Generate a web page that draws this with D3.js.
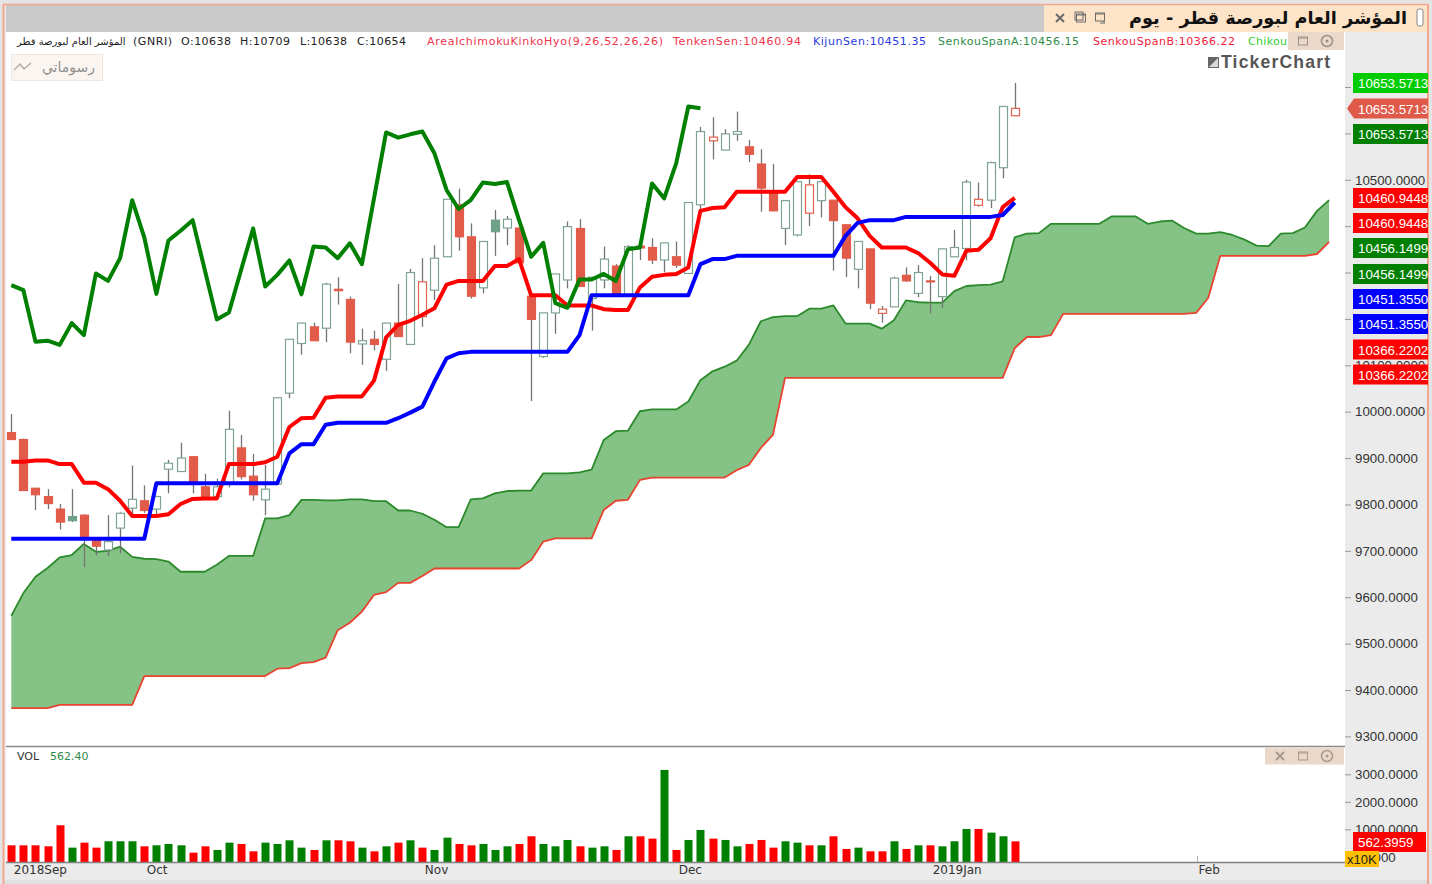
<!DOCTYPE html>
<html>
<head>
<meta charset="utf-8">
<script src="https://cdn.jsdelivr.net/npm/d3@7"></script>
<style>
body { margin: 0; background: #e4e4e4; overflow: hidden; }
text { font-family: "DejaVu Sans", sans-serif; }
</style>
</head>
<body>
<script>
// daily candles, index 0 = first session of 2018Sep
var candleOpen = [9955,9940,9835,9817,9790,9774,9777,9723,9702,9749,9792,9808,9790,9876,9871,9903,9838,9817,9846,9922,9861,9810,9844,10040,10147,10183,10180,10264,10242,10146,10156,10113,10191,10145,10205,10262,10334,10446,10377,10267,10413,10396,10396,10249,10119,10213,10284,10395,10244,10284,10314,10252,10357,10354,10327,10334,10298,10446,10584,10564,10598,10571,10534,10472,10395,10381,10428,10455,10456,10403,10307,10351,10212,10226,10294,10255,10282,10248,10334,10352,10445,10456,10526,10638];
var candleHigh = [9995,9942,9835,9833,9801,9833,9779,9730,9777,9783,9884,9841,9819,9896,9933,9903,9866,9856,10002,9950,9909,9885,10030,10156,10191,10192,10278,10290,10248,10179,10175,10191,10275,10308,10331,10359,10458,10481,10406,10367,10435,10422,10396,10249,10213,10297,10410,10415,10290,10356,10318,10359,10357,10374,10364,10367,10451,10614,10635,10609,10647,10586,10566,10534,10455,10496,10512,10496,10456,10403,10367,10351,10228,10291,10311,10316,10293,10351,10392,10500,10494,10539,10658,10709];
var candleLow = [9940,9830,9788,9790,9746,9762,9665,9690,9689,9695,9775,9782,9777,9824,9871,9824,9813,9817,9837,9854,9808,9777,9844,10029,10123,10153,10150,10231,10126,10101,10132,10088,10162,10145,10183,10241,10334,10347,10244,10255,10336,10359,10321,10023,10116,10168,10266,10270,10175,10266,10255,10252,10327,10318,10301,10310,10298,10428,10544,10564,10584,10538,10431,10433,10359,10378,10400,10419,10304,10290,10266,10221,10192,10226,10280,10247,10212,10224,10334,10326,10442,10439,10503,10638];
var candleClose = [9940,9830,9821,9802,9762,9765,9726,9710,9720,9781,9811,9787,9817,9889,9900,9849,9813,9838,9962,9860,9821,9833,10030,10156,10191,10153,10275,10261,10150,10153,10145,10191,10162,10300,10280,10331,10458,10377,10249,10367,10388,10415,10321,10199,10213,10297,10399,10270,10290,10329,10255,10356,10353,10327,10364,10316,10451,10604,10592,10599,10604,10555,10482,10433,10455,10496,10489,10496,10412,10331,10367,10234,10221,10288,10282,10300,10280,10351,10354,10495,10458,10537,10658,10654];
// 1 = green session, 0 = red session (same colour on candle and volume bar)
var dayUp = [0,0,0,0,0,1,0,0,1,1,1,0,1,1,1,0,0,1,1,0,0,1,1,1,1,0,1,0,0,1,0,1,0,1,0,1,1,0,0,1,1,1,0,0,1,1,1,0,1,1,0,1,0,0,1,0,1,1,0,1,1,0,0,0,1,1,0,1,0,0,1,0,0,1,0,1,0,1,1,1,0,1,1,0];
var volume = [418,418,418,382,1146,333,515,333,564,564,564,382,418,467,418,151,382,248,515,467,200,515,467,600,333,248,600,600,564,333,200,382,515,600,333,248,697,467,418,467,248,382,467,746,467,382,612,382,333,382,248,746,746,661,3159,248,612,976,661,612,382,467,612,333,564,515,418,418,746,285,333,200,200,564,285,418,418,382,564,1012,1012,879,746,562.4];

var tenkan = [9892,9892,9895,9895,9887,9887,9847,9847,9833,9808,9775,9775,9775,9779,9801,9812,9813,9813,9887,9887,9887,9891,9903,9967,9986,9987,10030,10033,10033,10033,10067,10160,10187,10196,10209,10223,10274,10282,10282,10282,10314,10314,10329,10251,10251,10251,10229,10229,10229,10221,10219,10219,10268,10291,10295,10297,10311,10433,10439,10441,10474,10474,10474,10474,10474,10506,10506,10506,10474,10441,10417,10379,10354,10354,10354,10342,10321,10296,10293,10347,10349,10374,10441,10461];
var kijun = [9726,9726,9726,9726,9726,9726,9726,9726,9726,9726,9726,9726,9846,9846,9846,9846,9846,9846,9846,9846,9846,9846,9846,9910,9930,9930,9972,9976,9976,9976,9976,9976,9986,9998,10011,10065,10115,10126,10129,10129,10129,10129,10129,10129,10129,10129,10129,10165,10251,10251,10251,10251,10251,10251,10251,10251,10251,10318,10329,10329,10336,10336,10336,10336,10336,10336,10336,10336,10336,10379,10407,10413,10413,10413,10420,10420,10420,10420,10420,10420,10420,10420,10424,10451];
var chikou = [10273,10262,10151,10153,10144,10191,10165,10298,10282,10331,10456,10376,10254,10369,10390,10413,10306,10199,10214,10305,10395,10270,10295,10326,10253,10356,10354,10331,10363,10318,10460,10602,10591,10598,10604,10557,10478,10437,10456,10494,10491,10495,10413,10334,10364,10234,10224,10285,10285,10297,10282,10350,10354,10492,10460,10536,10658,10654];
var spanA = [9560,9609,9644,9663,9686,9691,9715,9698,9700,9709,9687,9683,9682,9677,9655,9655,9655,9670,9689,9689,9689,9770,9770,9777,9810,9810,9809,9809,9811,9811,9807,9807,9787,9787,9780,9767,9751,9751,9811,9813,9824,9829,9830,9830,9867,9867,9867,9869,9875,9939,9958,9959,10001,10005,10005,10005,10022,10068,10087,10097,10110,10144,10195,10204,10206,10206,10222,10222,10229,10190,10190,10190,10179,10197,10240,10236,10235,10235,10260,10271,10273,10274,10281,10376,10384,10385,10405,10405,10405,10405,10405,10421,10421,10421,10405,10410,10412,10396,10384,10384,10387,10381,10371,10358,10357,10384,10385,10397,10433,10456];
var spanB = [9361,9361,9361,9361,9368,9368,9368,9368,9368,9368,9368,9430,9430,9430,9430,9430,9430,9430,9430,9430,9430,9430,9446,9447,9458,9460,9470,9529,9545,9569,9605,9611,9631,9631,9646,9662,9662,9662,9662,9662,9662,9662,9662,9680,9720,9727,9727,9727,9727,9788,9808,9810,9853,9858,9858,9858,9858,9858,9858,9858,9874,9885,9922,9950,10073,10073,10073,10073,10073,10073,10073,10073,10073,10073,10073,10073,10073,10073,10073,10073,10073,10073,10073,10137,10161,10161,10165,10211,10211,10211,10211,10211,10211,10211,10211,10211,10211,10211,10213,10245,10336,10336,10336,10336,10336,10336,10336,10336,10340,10366];

var priceTicks = [9300,9400,9500,9600,9700,9800,9900,10000,10100,10200,10300,10400,10500,10600,10700];
// these labels sit fully behind the value flags in the reference
var coveredPriceLabels = [10200,10300,10400,10600,10700];
var volumeTicks = [0,1000,2000,3000];
var monthIndex = [0,11,34,55,76,98];
var monthLabels = ["2018Sep","Oct","Nov","Dec","2019Jan","Feb"];

var flagLabels = ["10653.5713","10653.5713","10653.5713","10460.9448","10460.9448","10456.1499","10456.1499","10451.3550","10451.3550","10366.2202","10366.2202"];
var flagColors = ["#00cc00","#e05a4a","#007f00","#ff0000","#ff0000","#007f00","#007f00","#0000ff","#0000ff","#ff0000","#ff0000"];

var w = 1432;
var h = 884;
var plotLeft = 6;
var plotRight = 1345;
var plotTop = 32;
var plotBottom = 746;
var volBottom = 862;
var frameRight = 1428;
var numberFont = '"Liberation Sans"';

var svg = d3.select("body")
			.append("svg")
			.attr("width",w)
			.attr("height",h)
			.style("display","block");

var xScale = d3.scaleLinear().domain([0,109]).range([11.3,1329.1]);
var yScale = d3.scaleLinear().domain([9300,10700]).range([736.4,87]);
var volScale = d3.scaleLinear().domain([0,3000]).range([856.8,774.3]);

// window chrome and panel backgrounds
svg.append("rect").attr("x",3).attr("y",4).attr("width",frameRight-3).attr("height",h-4).attr("fill","#ebebeb");
svg.append("rect").attr("x",plotLeft).attr("y",5).attr("width",1038).attr("height",27).attr("fill","#c9c9c9");
svg.append("rect").attr("x",1044).attr("y",5).attr("width",frameRight-1044).attr("height",27).attr("fill","#fde4c8");
svg.append("rect").attr("x",plotLeft).attr("y",plotTop).attr("width",plotRight-plotLeft).attr("height",volBottom-plotTop).attr("fill","white");
svg.append("line").attr("x1",3).attr("x2",frameRight).attr("y1",4.5).attr("y2",4.5).attr("stroke","#f3a78e").attr("stroke-width",1.5);
svg.append("line").attr("x1",3.5).attr("x2",3.5).attr("y1",4).attr("y2",h).attr("stroke","#f3a78e").attr("stroke-width",2);
svg.append("line").attr("x1",frameRight).attr("x2",frameRight).attr("y1",4).attr("y2",h).attr("stroke","#f3a78e").attr("stroke-width",2);
svg.append("rect").attr("x",5).attr("y",880).attr("width",frameRight-6).attr("height",4).attr("fill","#e0e0e0");

svg.append("defs").append("clipPath").attr("id","price-clip")
	.append("rect").attr("x",plotLeft).attr("y",plotTop).attr("width",plotRight-plotLeft).attr("height",plotBottom-plotTop);

var pricePanel = svg.append("g").attr("clip-path","url(#price-clip)");

// cloud first, candles sit on it
var cloudIndex = d3.range(spanA.length);
var cloud = d3.area()
				.x(function(i){return xScale(i);})
				.y0(function(i){return yScale(spanB[i]);})
				.y1(function(i){return yScale(spanA[i]);});

pricePanel.append("path").datum(cloudIndex).attr("d",cloud).attr("fill","#85c285");

function drawLine(series, color, width){
	var line = d3.line()
				.x(function(d,i){return xScale(i);})
				.y(function(d){return yScale(d);});
	pricePanel.append("path")
		.datum(series)
		.attr("d",line)
		.attr("fill","none")
		.attr("stroke",color)
		.attr("stroke-width",width)
		.attr("stroke-linejoin","round");
}

drawLine(spanB,"#e8432f",1.8);
drawLine(spanA,"#2b8a2b",1.8);

// candles
var candles = pricePanel.selectAll(".candle")
				.data(candleOpen)
				.enter()
				.append("g")
				.attr("class","candle");

candles.append("line")
	.attr("x1",function(d,i){return Math.round(xScale(i))+0.5;})
	.attr("x2",function(d,i){return Math.round(xScale(i))+0.5;})
	.attr("y1",function(d,i){return yScale(candleHigh[i]);})
	.attr("y2",function(d,i){return yScale(candleLow[i]);})
	.attr("stroke","#747474")
	.attr("stroke-width",1.3);

candles.append("rect")
	.attr("x",function(d,i){return Math.round(xScale(i))-3.5;})
	.attr("width",8)
	.attr("y",function(d,i){return yScale(Math.max(candleOpen[i],candleClose[i]));})
	.attr("height",function(d,i){return Math.max(1,Math.abs(yScale(candleOpen[i])-yScale(candleClose[i])));})
	.attr("fill",function(d,i){
		if(candleClose[i]>=candleOpen[i]) return "white";
		return dayUp[i] ? "#6fa088" : "#e25b4a";
	})
	.attr("stroke",function(d,i){
		if(candleClose[i]>=candleOpen[i]) return dayUp[i] ? "#7fa392" : "#e4604f";
		return dayUp[i] ? "#6fa088" : "#e25b4a";
	})
	.attr("stroke-width",1.2);

drawLine(tenkan,"#ff0000",4);
drawLine(kijun,"#0000ff",4);
drawLine(chikou,"#008000",4);

// panel divider and price axis
svg.append("line").attr("x1",plotLeft).attr("x2",plotRight).attr("y1",746.5).attr("y2",746.5).attr("stroke","#8a8a8a").attr("stroke-width",1.5);

var yAxis = d3.axisRight(yScale)
				.tickValues(priceTicks)
				.tickFormat(function(d){return coveredPriceLabels.indexOf(d)>=0 ? "" : d3.format(".4f")(d);})
				.tickSize(6)
				.tickPadding(4);

var yAxisG = svg.append("g").attr("class","yaxis").attr("transform","translate("+plotRight+",0)").call(yAxis);
yAxisG.select(".domain").remove();

// volume panel
svg.selectAll(".vol")
	.data(volume)
	.enter()
	.append("rect")
	.attr("class","vol")
	.attr("x",function(d,i){return Math.round(xScale(i))-3.5;})
	.attr("width",8)
	.attr("y",function(d){return volScale(d);})
	.attr("height",function(d){return volBottom-volScale(d);})
	.attr("fill",function(d,i){return dayUp[i] ? "#008000" : "#ff0000";});

var volAxis = d3.axisRight(volScale)
				.tickValues(volumeTicks)
				.tickFormat(d3.format(".4f"))
				.tickSize(6)
				.tickPadding(4);

var volAxisG = svg.append("g").attr("class","volaxis").attr("transform","translate("+plotRight+",0)").call(volAxis);
volAxisG.select(".domain").remove();

// time axis
var xAxis = d3.axisBottom(xScale)
				.tickValues(monthIndex)
				.tickFormat(function(d,i){return monthLabels[i];})
				.tickSize(0)
				.tickPadding(3);

var xAxisG = svg.append("g").attr("class","xaxis").attr("transform","translate(0,"+volBottom+")").call(xAxis);
xAxisG.select(".domain").attr("stroke","#808080").attr("stroke-width",1.5).attr("d","M"+plotLeft+",0.5H"+plotRight);
xAxisG.selectAll("text").attr("text-anchor","start").attr("dx",2).attr("font-size",12).attr("fill","#333");
svg.append("line").attr("x1",1197.5).attr("x2",1197.5).attr("y1",856).attr("y2",862).attr("stroke","#b0b0b0");

svg.selectAll(".yaxis text, .volaxis text").attr("font-size",13.3).attr("fill","#333").style("font-family",numberFont);
svg.selectAll(".yaxis line, .volaxis line").attr("stroke","#9a9a9a");

// value flags on the price scale
var flagTops = [73,98.5,124,188,213,238,264,289,314,339.5,364.5];
var flags = svg.selectAll(".flag").data(flagLabels).enter().append("g").attr("class","flag");
flags.append("path")
	.attr("d",function(d,i){
		var t = flagTops[i];
		if(i==1) return "M1347,"+(t+10)+"L1354,"+t+"H"+frameRight+"V"+(t+20)+"H1354Z";
		return "M1353,"+t+"H"+frameRight+"V"+(t+20)+"H1353Z";
	})
	.attr("fill",function(d,i){return flagColors[i];});
flags.append("text")
	.attr("x",1358)
	.attr("y",function(d,i){return flagTops[i]+15;})
	.attr("font-size",13.3)
	.attr("fill","white")
	.style("font-family",numberFont)
	.text(function(d){return d;});

svg.append("rect").attr("x",1353).attr("y",832).attr("width",73).attr("height",20).attr("fill","#ff0000");
svg.append("text").attr("x",1358).attr("y",847).attr("font-size",13.3).attr("fill","white").style("font-family",numberFont).text("562.3959");
svg.append("rect").attr("x",1345).attr("y",851).attr("width",34).attr("height",16).attr("fill","#ffc000");
svg.append("text").attr("x",1347).attr("y",863.5).attr("font-size",13).attr("fill","#222").style("font-family",numberFont).text("x10K");

// title bar
svg.append("text")
	.attr("x",1268)
	.attr("y",24)
	.attr("text-anchor","middle")
	.attr("direction","rtl")
	.attr("font-size",17.7)
	.attr("font-weight","bold")
	.attr("fill","#111")
	.text("المؤشر العام لبورصة قطر - يوم");
svg.append("rect").attr("x",1417).attr("y",9).attr("width",6).attr("height",17).attr("rx",2).attr("fill","white").attr("stroke","#888");

function closeIcon(cx,cy,color){
	svg.append("path").attr("d","M"+(cx-4)+","+(cy-4)+"L"+(cx+4)+","+(cy+4)+"M"+(cx+4)+","+(cy-4)+"L"+(cx-4)+","+(cy+4))
		.attr("stroke",color).attr("stroke-width",2).attr("fill","none");
}
function boxIcon(cx,cy,color){
	svg.append("rect").attr("x",cx-4.5).attr("y",cy-4).attr("width",9).attr("height",8)
		.attr("fill","none").attr("stroke",color);
	svg.append("line").attr("x1",cx-4.5).attr("x2",cx+4.5).attr("y1",cy-3).attr("y2",cy-3).attr("stroke",color);
}
function gearIcon(cx,cy,color){
	svg.append("circle").attr("cx",cx).attr("cy",cy).attr("r",5.5).attr("fill","none").attr("stroke",color).attr("stroke-width",1.5);
	svg.append("circle").attr("cx",cx).attr("cy",cy).attr("r",1.5).attr("fill",color);
}
closeIcon(1060,18,"#6b6b6b");
boxIcon(1081,18,"#6b6b6b");
svg.append("rect").attr("x",1075).attr("y",12).attr("width",8).attr("height",8).attr("fill","none").attr("stroke","#6b6b6b");
boxIcon(1100,17,"#6b6b6b");
svg.append("path").attr("d","M1100,23h5l-2,-2").attr("fill","none").attr("stroke","#6b6b6b");

// legend row
var legendNames = ["المؤشر العام لبورصة قطر","(GNRI)","O:10638","H:10709","L:10638","C:10654","AreaIchimokuKinkoHyo(9,26,52,26,26)","TenkenSen:10460.94","KijunSen:10451.35","SenkouSpanA:10456.15","SenkouSpanB:10366.22","Chikou"];
var legendLeft = [17,133,181,240,300,357,427,673,813,938,1093,1248];
var legendWidth = [null,39,50,50,47,49,236,128,113,141,142,39];
var legendColor = ["#222","#222","#222","#222","#222","#222","#f0334a","#f0334a","#2a3ae0","#2e8b4a","#f01a3a","#33cc33"];
svg.selectAll(".legend")
	.data(legendNames)
	.enter()
	.append("text")
	.attr("class","legend")
	.attr("x",function(d,i){return legendLeft[i];})
	.attr("y",44.5)
	.attr("font-size",function(d,i){return i==0 ? 10 : 11;})
	.attr("fill",function(d,i){return legendColor[i];})
	.each(function(d,i){
		if(legendWidth[i]) d3.select(this).attr("textLength",legendWidth[i]);
	})
	.text(function(d){return d;});

// panel controls
svg.append("rect").attr("x",1288).attr("y",32).attr("width",56).attr("height",18).attr("fill","#ecd8c8");
boxIcon(1303,41,"#9a8f88");
gearIcon(1327,41,"#9a8f88");
svg.append("rect").attr("x",1265).attr("y",747.5).attr("width",79).attr("height",17).attr("fill","#ecd8c8");
closeIcon(1280,756,"#a8998e");
boxIcon(1303,756,"#a8998e");
gearIcon(1327,756,"#a8998e");

// drawings button
svg.append("rect").attr("x",11.5).attr("y",54.5).attr("width",91).attr("height",26).attr("fill","#fbf5f1").attr("stroke","#efe6e0");
svg.append("path").attr("d","M14,70L20,64L24,69L31,63").attr("fill","none").attr("stroke","#b5aaa5").attr("stroke-width",1.5);
svg.append("text").attr("x",95).attr("y",72).attr("text-anchor","end").attr("font-size",14).attr("fill","#8f8f8f").text("رسوماتي");

// watermark
svg.append("rect").attr("x",1208).attr("y",57).attr("width",11).attr("height",11).attr("fill","#666");
svg.append("path").attr("d","M1209,67L1218,58V67Z").attr("fill","#d8d8d8");
svg.append("text").attr("x",1221).attr("y",68).attr("font-size",17.5).attr("font-weight","bold").attr("fill","#555").attr("textLength",109).style("font-family",'"Liberation Sans"').text("TickerChart");

// volume caption
svg.append("text").attr("x",17).attr("y",760).attr("font-size",11).attr("fill","#333").text("VOL");
svg.append("text").attr("x",50).attr("y",760).attr("font-size",11).attr("fill","#2e8b4a").text("562.40");
</script>
</body>
</html>
